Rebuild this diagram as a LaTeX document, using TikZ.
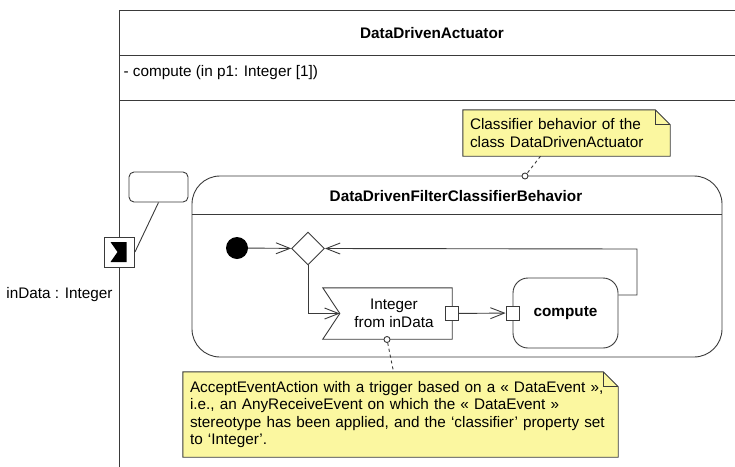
\documentclass[tikz,border=0pt]{standalone}
\usepackage{fontspec}
\setmainfont{Liberation Sans}
\usetikzlibrary{arrows.meta,positioning,shapes.geometric,backgrounds,calc}
\definecolor{linec}{HTML}{3A3A3A}
\definecolor{notey}{HTML}{FBF7A0}
\newcommand{\dfont}{\fontsize{15.3}{17.6}\selectfont}
\tikzset{
  ln/.style={draw=linec,line width=0.9pt},
  flow/.style={-{Straight Barb[length=14pt,width=11pt]},linec,line width=0.9pt},
  bold/.style={font=\dfont\bfseries},
  pinsq/.style={ln,fill=white,minimum width=13,minimum height=14,inner sep=0},
  anch/.style={circle,ln,fill=white,minimum size=6,inner sep=0},
  note/.style={align=left,inner xsep=7,inner ysep=0}
}
\newcommand{\notefold}[1]{%
  \begin{scope}[on background layer]
  \filldraw[ln,fill=notey] (#1.north west) -- ([xshift=-15]#1.north east) -- ([yshift=-15]#1.north east)
    -- (#1.south east) -- (#1.south west) -- cycle;
  \draw[ln] ([xshift=-15]#1.north east) |- ([yshift=-15]#1.north east);
  \end{scope}}

\begin{document}
\begin{tikzpicture}[x=1pt,y=-1pt,font=\dfont]
\clip (0,0) rectangle (735,466);
\draw[ln] (119,480) |- (750,10);
\draw[ln] (119,55) -- (750,55);
\draw[ln] (119,100) -- (750,100);
\node[bold] (cname) at (432,33) {DataDrivenActuator};
\node[anchor=west] (cop) at (120,73) {- compute (in p1: Integer [1])};

\node[ln,fill=white,minimum size=30,inner sep=0] (port) at (119.5,252) {};
\fill ($(port)+(-9,-10)$) -- ($(port)+(7,-10)$) -- ($(port)+(7,10)$) -- ($(port)+(-9,10)$) -- ($(port)+(-2,0)$) -- cycle;
\node[anchor=east] (plbl) at (116,295) {inData : Integer};
\node[ln,rounded corners=5,minimum width=59,minimum height=30] (pbox) at (158.5,187) {};
\draw[ln] (pbox.south) -- (port.east);

\node[ln,rounded corners=28,minimum width=530,minimum height=181,inner sep=0] (sm) at (457,266.5) {};
\node[bold] (smt) at (456,196) {DataDrivenFilterClassifierBehavior};
\draw[ln] (192,214) -- (722,214);

\node[circle,fill=black,minimum size=22,inner sep=0] (init) at (237,248) {};
\node[diamond,ln,minimum size=33,inner sep=0] (dec) at (308,248.5) {};
\node[minimum width=116,minimum height=51,align=center,inner sep=0] (recv) at (394,313.5) {Integer\\from inData};
\draw[ln] ([xshift=-13]recv.north west) -- (recv.north east) -- (recv.south east) -- ([xshift=-13]recv.south west) -- ([xshift=4]recv.west) -- cycle;
\coordinate (notch) at ([xshift=4]recv.west);
\node[pinsq] (opin) at (recv.east) {};
\node[ln,rounded corners=15,minimum width=105,minimum height=70,bold] (comp) at (565.5,313) {compute};
\node[pinsq] (ipin) at (comp.west) {};
\coordinate (loop) at (637,249);

\draw[flow] (init) -- (dec);
\draw[flow] (dec.south) |- (notch);
\draw[flow] (opin) -- (ipin);
\draw[flow] ([yshift=18]comp.east) -| (loop) -- (dec.east);

\node[note,text width=193,minimum height=46] (note1) at (566.5,133) {Classifier behavior of the\\class DataDrivenActuator};
\notefold{note1}
\node[anch] (a1) at (525,176) {};
\draw[ln,dashed] ([xshift=-26]note1.south) -- (a1);

\node[note,text width=421,minimum height=85] (note2) at (400.5,414.5) {AcceptEventAction with a trigger based on a « DataEvent »,\\i.e., an AnyReceiveEvent on which the « DataEvent »\\stereotype has been applied, and the ‘classifier’ property set\\to ‘Integer’.};
\notefold{note2}
\node[anch] (a2) at (387,339.5) {};
\draw[ln,dashed] (a2) -- ([xshift=-7]note2.north);
\end{tikzpicture}
\end{document}
